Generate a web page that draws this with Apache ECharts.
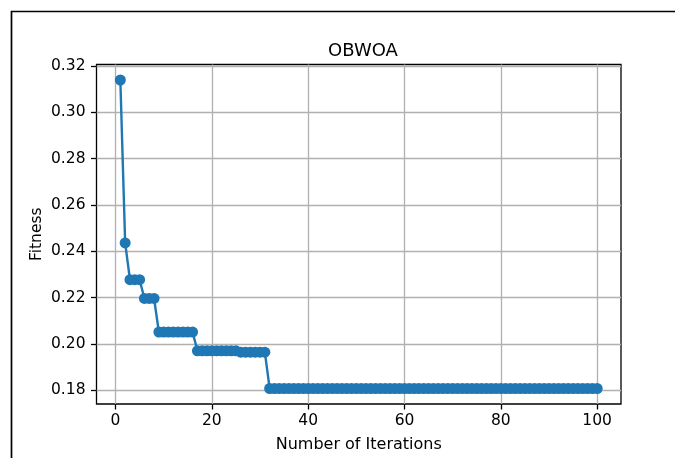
<!DOCTYPE html>
<html>
<head>
<meta charset="utf-8">
<script src="https://cdn.jsdelivr.net/npm/echarts@6/dist/echarts.min.js"></script>
<style>
  html, body { margin: 0; padding: 0; background: #fff; }
  #chart { width: 675px; height: 458px; }
</style>
</head>
<body>
<div id="chart"></div>
<script>
// iteration numbers 1..100
const iterations = [
  1, 2, 3, 4, 5, 6, 7, 8, 9, 10,
  11, 12, 13, 14, 15, 16, 17, 18, 19, 20,
  21, 22, 23, 24, 25, 26, 27, 28, 29, 30,
  31, 32, 33, 34, 35, 36, 37, 38, 39, 40,
  41, 42, 43, 44, 45, 46, 47, 48, 49, 50,
  51, 52, 53, 54, 55, 56, 57, 58, 59, 60,
  61, 62, 63, 64, 65, 66, 67, 68, 69, 70,
  71, 72, 73, 74, 75, 76, 77, 78, 79, 80,
  81, 82, 83, 84, 85, 86, 87, 88, 89, 90,
  91, 92, 93, 94, 95, 96, 97, 98, 99, 100
]

// best fitness per iteration
const fitness = [
  0.3140, 0.2436, 0.2277, 0.2277, 0.2277, 0.2196, 0.2196, 0.2196, 0.2051, 0.2051,
  0.2051, 0.2051, 0.2051, 0.2051, 0.2051, 0.2051, 0.1970, 0.1970, 0.1970, 0.1970,
  0.1970, 0.1970, 0.1970, 0.1970, 0.1970, 0.1964, 0.1964, 0.1964, 0.1964, 0.1964,
  0.1964, 0.1807, 0.1807, 0.1807, 0.1807, 0.1807, 0.1807, 0.1807, 0.1807, 0.1807,
  0.1807, 0.1807, 0.1807, 0.1807, 0.1807, 0.1807, 0.1807, 0.1807, 0.1807, 0.1807,
  0.1807, 0.1807, 0.1807, 0.1807, 0.1807, 0.1807, 0.1807, 0.1807, 0.1807, 0.1807,
  0.1807, 0.1807, 0.1807, 0.1807, 0.1807, 0.1807, 0.1807, 0.1807, 0.1807, 0.1807,
  0.1807, 0.1807, 0.1807, 0.1807, 0.1807, 0.1807, 0.1807, 0.1807, 0.1807, 0.1807,
  0.1807, 0.1807, 0.1807, 0.1807, 0.1807, 0.1807, 0.1807, 0.1807, 0.1807, 0.1807,
  0.1807, 0.1807, 0.1807, 0.1807, 0.1807, 0.1807, 0.1807, 0.1807, 0.1807, 0.1807
]

const xTicks = [0, 20, 40, 60, 80, 100]
const yTicks = [0.18, 0.20, 0.22, 0.24, 0.26, 0.28, 0.30, 0.32]

const fontFamily = '"DejaVu Sans", sans-serif'
const lineColor = '#1f77b4'

const chart = echarts.init(document.getElementById('chart'), null, { renderer: 'canvas' })

const option = {
  animation: false,
  backgroundColor: '#fff',
  title: {
    text: 'OBWOA',
    left: 358,
    top: 37,
    textAlign: 'center',
    textStyle: { fontFamily, fontSize: 18, fontWeight: 'normal', color: '#000' },
  },
  grid: {
    left: 96.5,
    right: 54,
    top: 64.5,
    bottom: 54,
    show: true,
    borderColor: '#000',
    borderWidth: 1.3,
    backgroundColor: 'transparent',
  },
  xAxis: {
    type: 'value',
    min: -3.95,
    max: 104.95,
    name: 'Number of Iterations',
    nameLocation: 'middle',
    nameGap: 33,
    nameMoveOverlap: false,
    nameTextStyle: { fontFamily, fontSize: 16, color: '#000' },
    axisLine: { show: false, onZero: false },
    axisTick: { show: true, customValues: xTicks, length: 5.5, lineStyle: { color: '#000', width: 1.3 } },
    axisLabel: { customValues: xTicks, margin: 9, fontFamily, fontSize: 15.5, color: '#000' },
    splitLine: { show: true, lineStyle: { color: '#b0b0b0', width: 1.3 } },
  },
  yAxis: {
    type: 'value',
    min: 0.174,
    max: 0.3207,
    name: 'Fitness',
    nameLocation: 'middle',
    nameGap: 52,
    nameMoveOverlap: false,
    nameTextStyle: { fontFamily, fontSize: 15.5, color: '#000' },
    axisLine: { show: false, onZero: false },
    axisTick: { show: true, customValues: yTicks, length: 5.5, lineStyle: { color: '#000', width: 1.3 } },
    axisLabel: {
      customValues: yTicks,
      margin: 11,
      fontFamily,
      fontSize: 15.5,
      color: '#000',
      formatter: (v) => v.toFixed(2),
    },
    splitLine: { show: true, lineStyle: { color: '#b0b0b0', width: 1.3 } },
  },
  series: [
    {
      type: 'line',
      data: iterations.map((it, i) => [it, fitness[i]]),
      symbol: 'circle',
      symbolSize: 11,
      showAllSymbol: true,
      lineStyle: { color: lineColor, width: 2.4 },
      itemStyle: { color: lineColor },
    },
  ],
  graphic: [
    {
      type: 'rect',
      shape: { x: 11.5, y: 11.5, width: 700, height: 500 },
      style: { fill: 'none', stroke: '#000', lineWidth: 1.7 },
      silent: true,
    },
  ],
}

chart.setOption(option)
</script>
</body>
</html>
